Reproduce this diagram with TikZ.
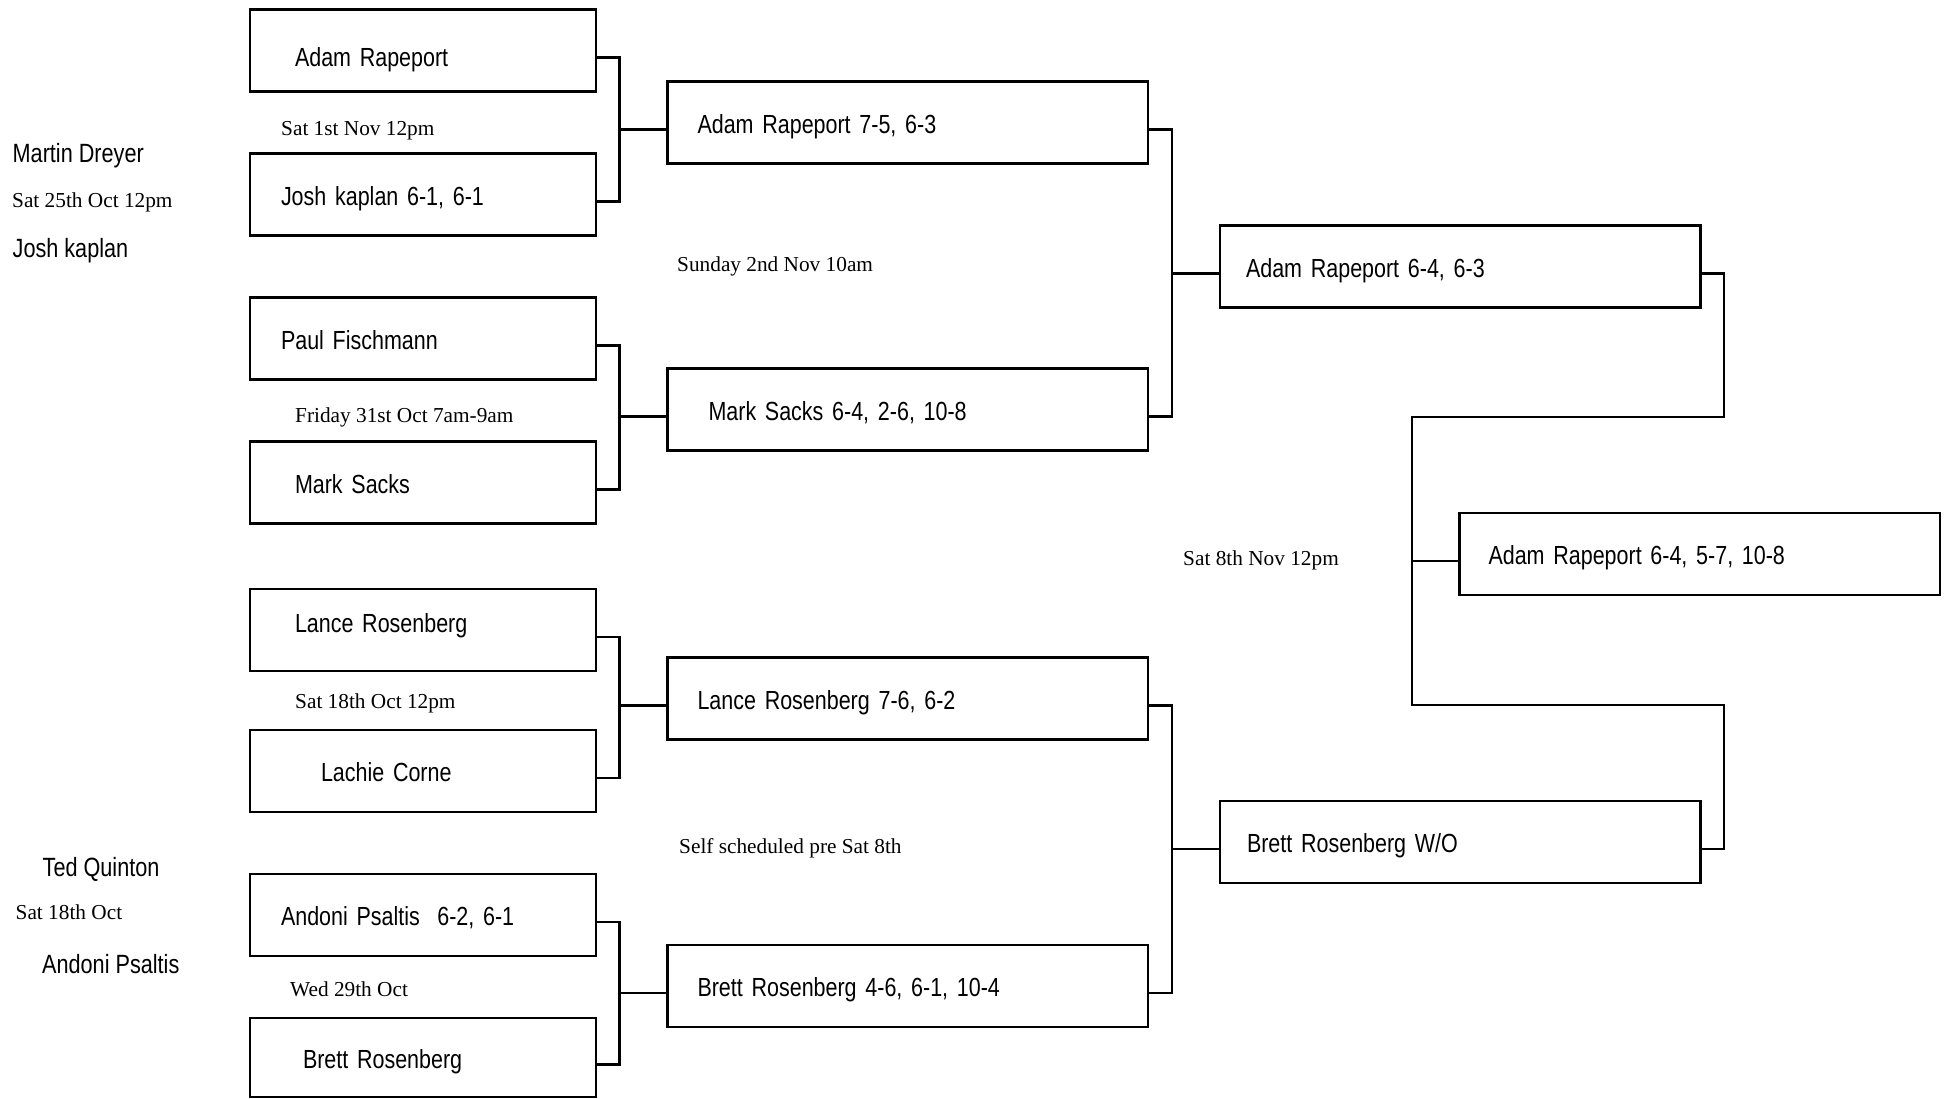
\documentclass[tikz,border=0pt]{standalone}
\usepackage{fontspec}
\setmainfont{Liberation Sans}[FakeStretch=0.82]
\newfontfamily\datefont{Liberation Serif}
\usepackage{tikz}
\usetikzlibrary{positioning}
\tikzset{player/.style={draw, line width=2.8bp, inner sep=0pt, outer sep=0pt, anchor=north west, minimum height=82bp, align=left, text height=21bp, text depth=0pt, font=\fontsize{26.2bp}{31bp}\selectfont}}
\tikzset{first/.style={player, text width=346bp}}
\tikzset{later/.style={player, text width=480.5bp}}
\tikzset{link/.style={line width=2.8bp}}
\tikzset{entrant/.style={anchor=west, inner sep=0pt, text height=18bp, text depth=0pt, font=\fontsize{26.4bp}{31bp}\selectfont}}
\tikzset{when/.style={anchor=west, inner sep=0pt, text height=14bp, text depth=0pt, font=\datefont\fontsize{21.3bp}{25bp}\selectfont}}

\begin{document}
\begin{tikzpicture}[x=1bp, y=-1bp, node distance=62bp]
\useasboundingbox (0,0) rectangle (1944,1098);
\draw node[first](p1) at (250,9.5) {\hspace*{45bp}\raisebox{-5bp}{Adam Rapeport}};
\draw node[first, below=of p1](p2) {\hspace*{31bp}Josh kaplan 6-1, 6-1};
\draw node[first, below=of p2](p3) {\hspace*{31bp}Paul Fischmann};
\draw node[first, below=of p3](p4) {\hspace*{45bp}Mark Sacks};
\draw node[first, below=65.5bp of p4](p5) {\hspace*{45bp}\raisebox{8bp}{Lance Rosenberg}};
\draw node[first, below=59bp of p5](p6) {\hspace*{71bp}Lachie Corne};
\draw node[first, below=of p6](p7) {\hspace*{31bp}Andoni Psaltis~~6-2, 6-1};
\draw node[first, below=of p7, minimum height=79bp](p8) {\hspace*{53bp}Brett Rosenberg};
\draw node[later](q1) at (667.5,81.5) {\hspace*{30bp}Adam Rapeport 7-5, 6-3};
\draw node[later](q2) at (667.5,368.5) {\hspace*{41bp}Mark Sacks 6-4, 2-6, 10-8};
\draw node[later](q3) at (667.5,657.5) {\hspace*{30bp}Lance Rosenberg 7-6, 6-2};
\draw node[later](q4) at (667.5,945) {\hspace*{30bp}Brett Rosenberg 4-6, 6-1, 10-4};
\draw node[later](s1) at (1220,225.5) {\hspace*{26bp}Adam Rapeport 6-4, 6-3};
\draw node[later](s2) at (1220,801) {\hspace*{27bp}Brett Rosenberg W/O};
\draw node[later](f) at (1459.5,513) {\hspace*{29bp}Adam Rapeport 6-4, 5-7, 10-8};

\foreach \a/\b/\w in {p1/p2/q1, p3/p4/q2, p5/p6/q3, p7/p8/q4, q1/q2/s1, q3/q4/s2}
  \draw[link] ([yshift=-7bp]\a.east) -| ([xshift=-48bp,yshift=-7bp]\w.west) |- ([yshift=-7bp]\b.east)
    ([xshift=-48bp,yshift=-7bp]\w.west) -- ([yshift=-7bp]\w.west);
\coordinate (fu) at (1724,417);
\coordinate (fl) at (1412,705);
\draw[link] ([yshift=-7bp]s1.east) -| (fu) -| (fl) -| (fu |- fl) |- ([yshift=-7bp]s2.east);
\draw[link] ([xshift=-47.5bp,yshift=-7bp]f.west) -- ([yshift=-7bp]f.west);

\draw node[entrant](md) at (12.5,153) {Martin Dreyer};
\draw node[when](t1) at (12,200) {Sat 25th Oct 12pm};
\draw node[entrant](jk) at (12.5,248) {Josh kaplan};
\draw node[entrant](tq) at (42.5,867.5) {Ted Quinton};
\draw node[when](t2) at (15.5,912) {Sat 18th Oct};
\draw node[entrant](ap) at (42,964) {Andoni Psaltis};
\draw node[when](t3) at (281,128) {Sat 1st Nov 12pm};
\draw node[when](t4) at (295,415) {Friday 31st Oct 7am-9am};
\draw node[when](t5) at (295,701.5) {Sat 18th Oct 12pm};
\draw node[when](t6) at (290,989.5) {Wed 29th Oct};
\draw node[when](t7) at (677,264) {Sunday 2nd Nov 10am};
\draw node[when](t8) at (679,846) {Self scheduled pre Sat 8th};
\draw node[when](t9) at (1183,558) {Sat 8th Nov 12pm};
\end{tikzpicture}
\end{document}
